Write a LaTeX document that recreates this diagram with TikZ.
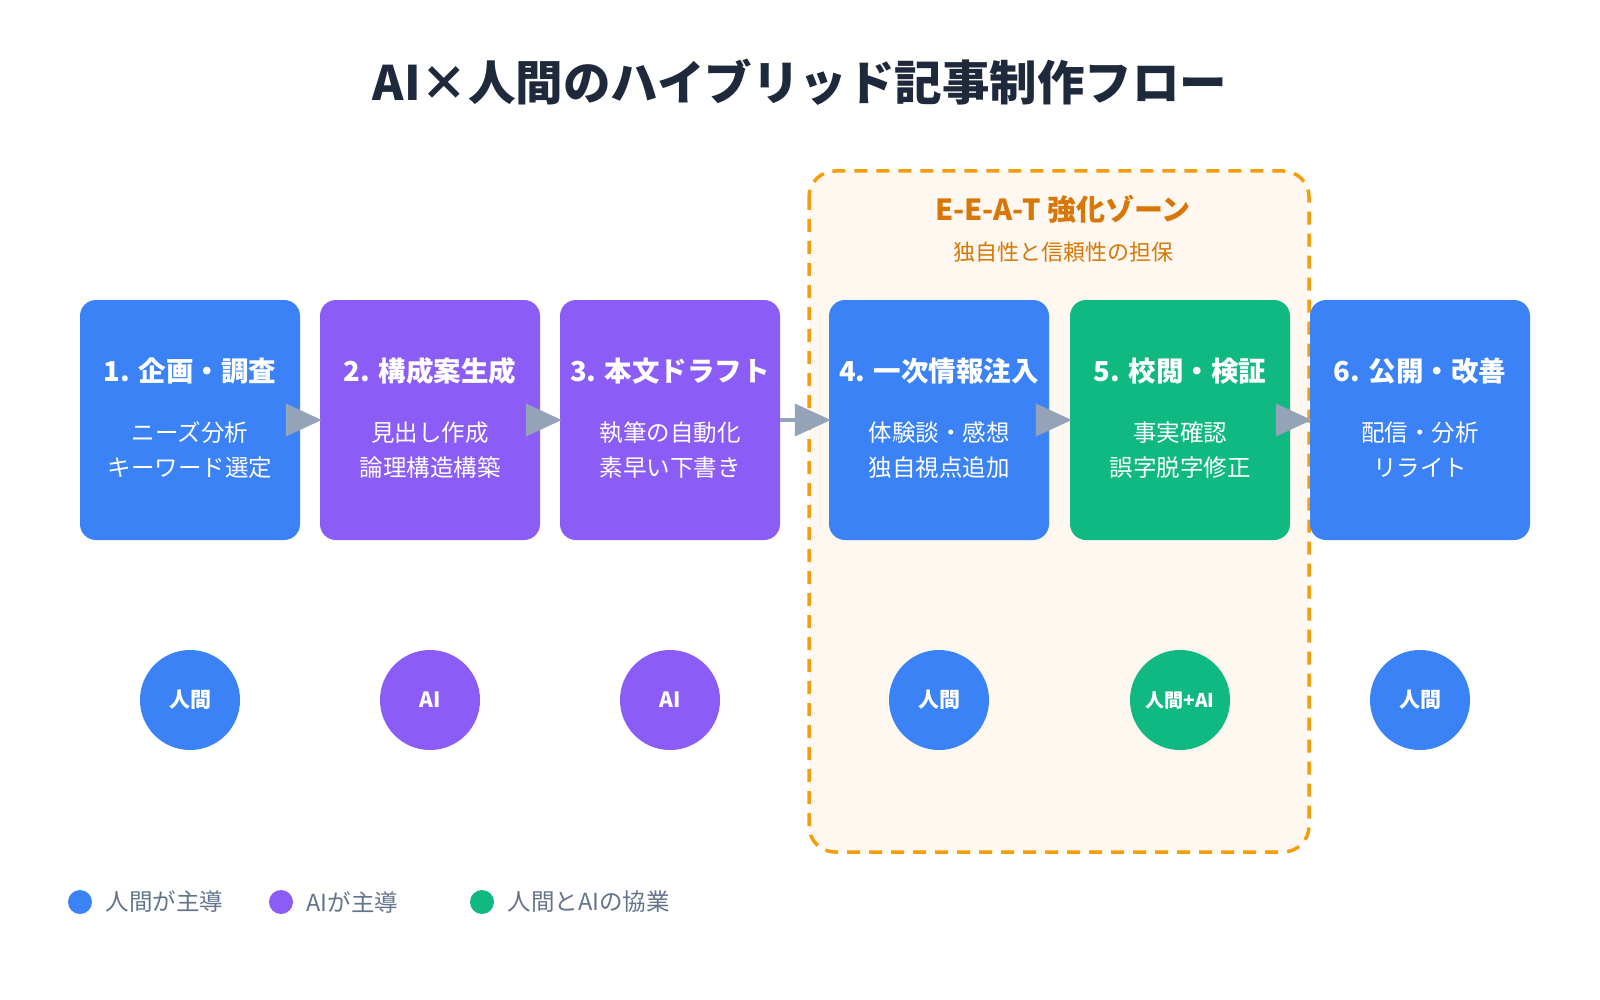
\documentclass[tikz,border=0pt]{standalone}
\usepackage{fontspec}
\setmainfont{Noto Sans CJK JP}
\usetikzlibrary{arrows.meta}
\definecolor{human}{HTML}{3B82F6}
\definecolor{aicol}{HTML}{8B5CF6}
\definecolor{both}{HTML}{10B981}
\definecolor{zoneline}{HTML}{F59E0B}
\definecolor{zonefill}{HTML}{FEF8F0}
\definecolor{zonetext}{HTML}{D97706}
\definecolor{titlecol}{HTML}{1E293B}
\definecolor{arrowcol}{HTML}{94A3B8}
\definecolor{legendcol}{HTML}{64748B}
\tikzset{
  stepbox/.style = {rectangle, rounded corners=16pt, minimum width=220pt,
    minimum height=240pt, inner sep=0pt},% process box
  steptitle/.style = {white, font=\fontsize{27.5}{30}\selectfont\bfseries},
  stepbody/.style = {white, align=center, font=\fontsize{23.5}{35}\selectfont},
  who/.style = {circle, minimum size=100pt, inner sep=0pt, white,
    font=\fontsize{21}{24}\selectfont\bfseries},% role badge
  dot/.style = {circle, minimum size=24pt, inner sep=0pt},
  legend/.style = {anchor=west, legendcol, font=\fontsize{23.5}{26}\selectfont},
  flow/.style = {arrowcol, line width=4pt, -{Triangle[length=36pt,width=32pt]}, shorten >=-2pt},
}
\begin{document}
\begin{tikzpicture}[x=1pt,y=-1pt]
  \useasboundingbox[fill=white] (0,0) rectangle (1600,1000);

  \node[titlecol, font=\fontsize{47.5}{52}\selectfont\bfseries] (title) at (800,82) {AI×人間のハイブリッド記事制作フロー};

  % E-E-A-T zone
  \draw[zoneline, fill=zonefill, line width=3.5pt, dash pattern=on 13pt off 9pt, rounded corners=26pt]
    (809,171) rectangle (1309,852);
  \node[zonetext, font=\fontsize{29}{32}\selectfont\bfseries] (zone) at (1063,209) {E-E-A-T 強化ゾーン};
  \node[zonetext, font=\fontsize{22}{24}\selectfont] (zonesub) at (1063,252) {独自性と信頼性の担保};

  % steps
  \node[stepbox, fill=human] (s1) at (190,420) {};
  \node[stepbox, fill=aicol] (s2) at (430,420) {};
  \node[stepbox, fill=aicol] (s3) at (670,420) {};
  \node[stepbox, fill=human] (s4) at (939,420) {};
  \node[stepbox, fill=both]  (s5) at (1180,420) {};
  \node[stepbox, fill=human] (s6) at (1420,420) {};

  \foreach \s/\t/\a/\b in {s1/1. 企画・調査/ニーズ分析/キーワード選定,
      s2/2. 構成案生成/見出し作成/論理構造構築,
      s3/3. 本文ドラフト/執筆の自動化/素早い下書き,
      s4/4. 一次情報注入/体験談・感想/独自視点追加,
      s5/5. 校閲・検証/事実確認/誤字脱字修正,
      s6/6. 公開・改善/配信・分析/リライト}{
    \node[steptitle] at ([yshift=49pt]\s.center) {\t};
    \node[stepbody] at ([yshift=-30pt]\s.center) {\a\\\b};
  }

  % arrows
  \draw[flow] (s1.east) -- (s2.west);
  \draw[flow] (s2.east) -- (s3.west);
  \draw[flow] (s3.east) -- (s4.west);
  \draw[flow] (s4.east) -- (s5.west);
  \draw[flow] (s5.east) -- (s6.west);

  % role badges
  \node[who, fill=human] (w1) at (190,700) {人間};
  \node[who, fill=aicol] (w2) at (430,700) {AI};
  \node[who, fill=aicol] (w3) at (670,700) {AI};
  \node[who, fill=human] (w4) at (939,700) {人間};
  \node[who, fill=both, font=\fontsize{19}{22}\selectfont\bfseries] (w5) at (1180,700) {人間+AI};
  \node[who, fill=human] (w6) at (1420,700) {人間};

  % legend
  \node[dot, fill=human] (d1) at (80,902) {};
  \node[legend] (l1) at (102,902) {人間が主導};
  \node[dot, fill=aicol] (d2) at (281,902) {};
  \node[legend] (l2) at (303,902) {AIが主導};
  \node[dot, fill=both] (d3) at (482,902) {};
  \node[legend] (l3) at (504,902) {人間とAIの協業};
\end{tikzpicture}
\end{document}
